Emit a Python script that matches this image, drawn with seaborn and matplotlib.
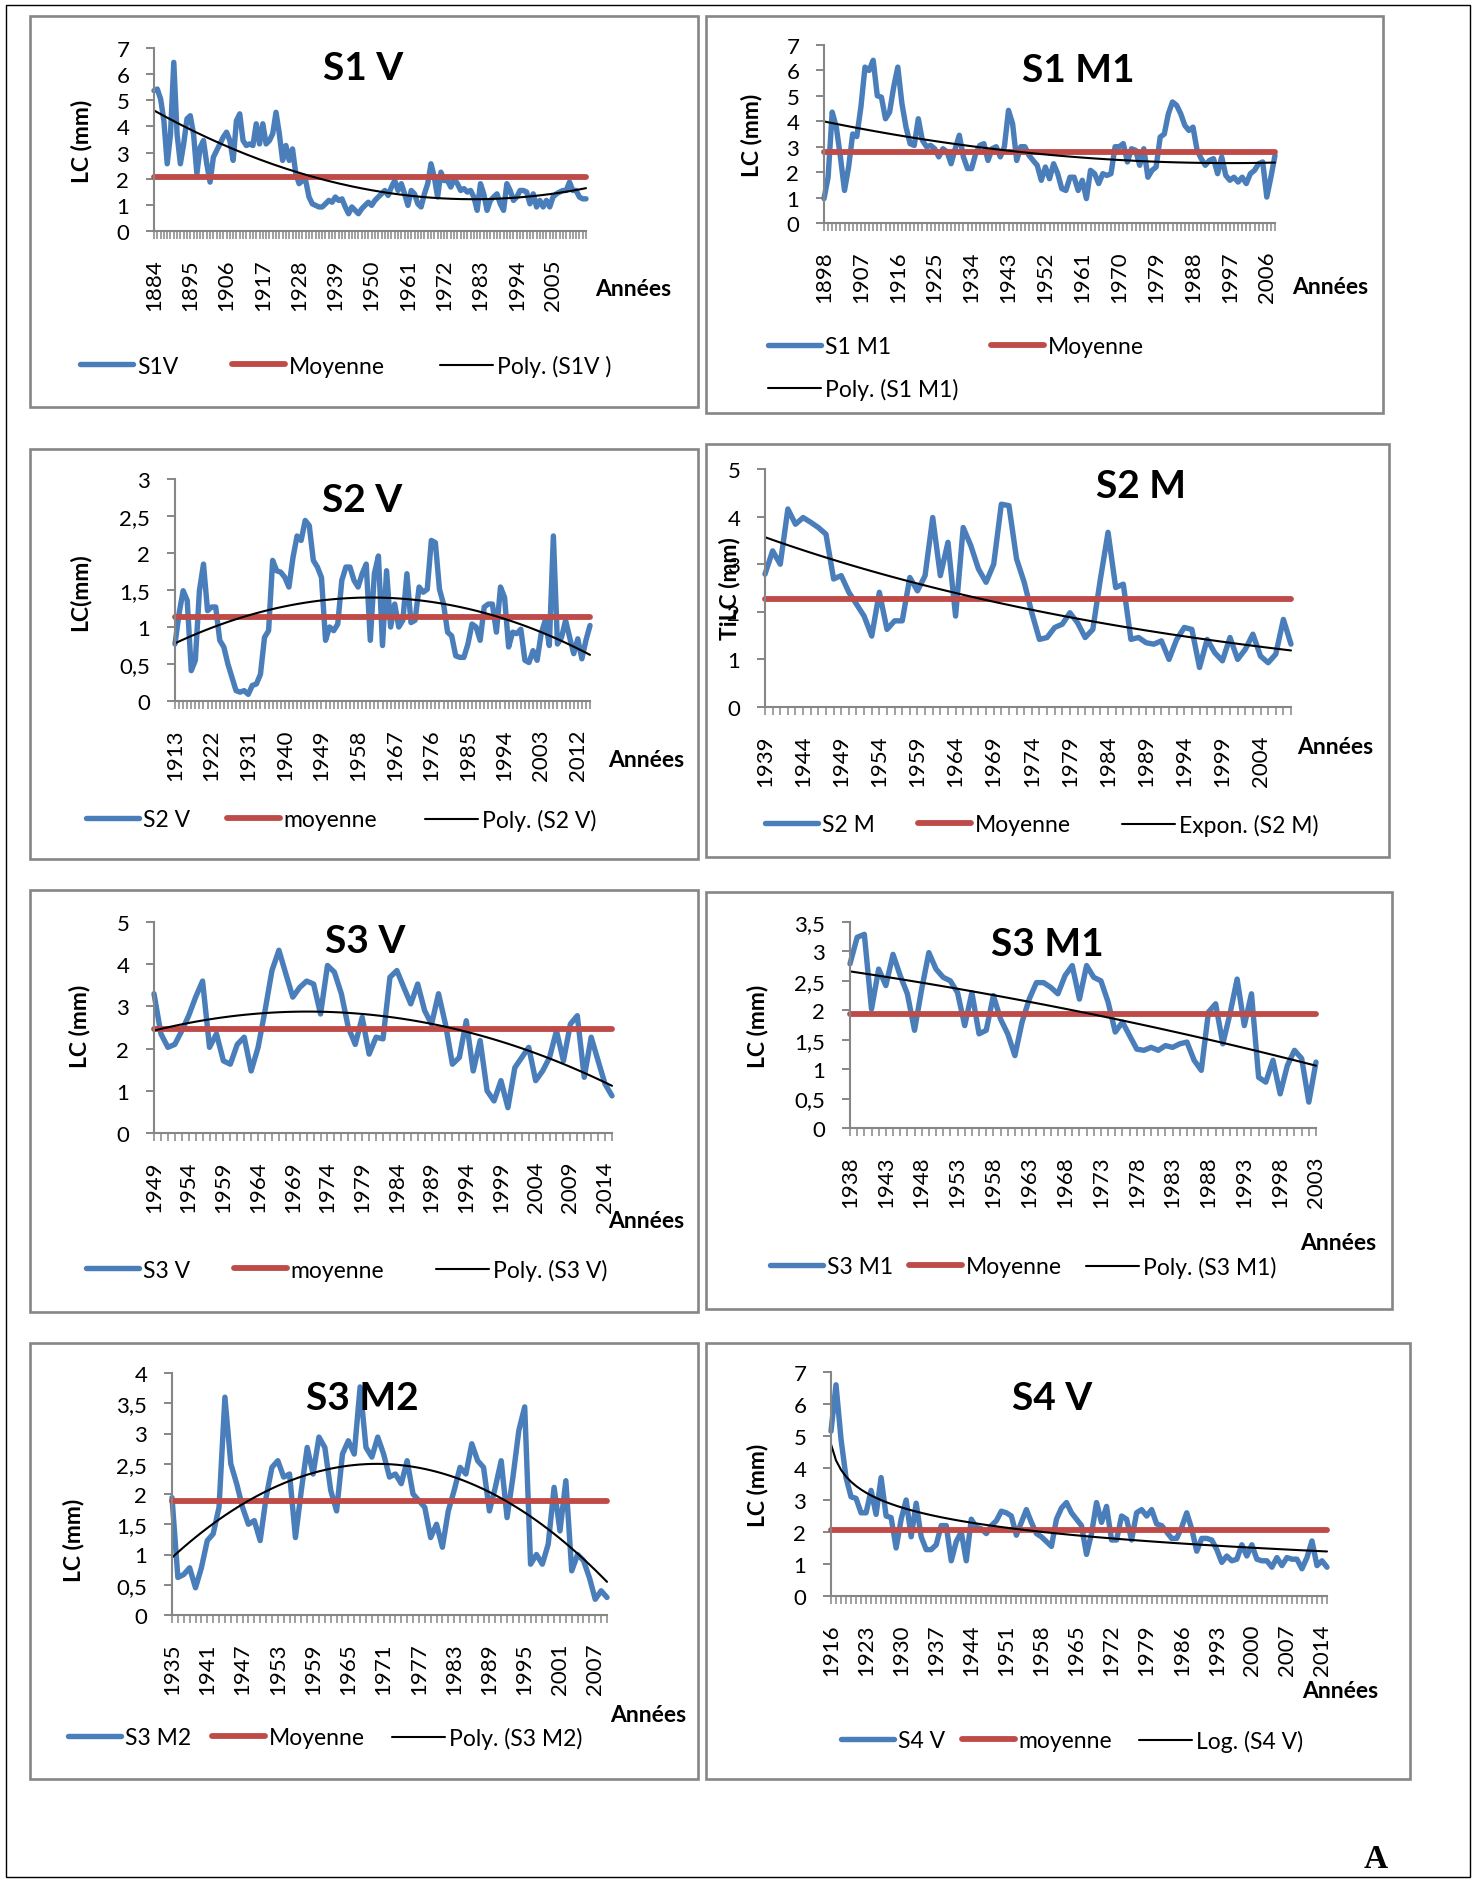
import numpy as np
import pandas as pd
import matplotlib
matplotlib.use("Agg")
import matplotlib.pyplot as plt
from matplotlib.patches import Rectangle
from matplotlib.legend import Legend
from matplotlib.ticker import FixedLocator, FuncFormatter
import seaborn as sns

sns.set_theme(style="white")
plt.rcParams['font.family'] = ['Lato', 'DejaVu Sans']

# ---------------------------------------------------------------- data (mm)
s1v_start = 1884
s1v = [5.37, 5.43, 5.05, 4.22, 2.57, 3.7, 6.45, 3.7, 2.57, 3.33,
       4.29, 4.41, 3.7, 2.19, 3.2, 3.46, 2.57, 1.87, 2.82, 3.08,
       3.33, 3.59, 3.78, 3.46, 2.7, 4.22, 4.48, 3.46, 3.27, 3.33,
       3.27, 4.1, 3.33, 4.1, 3.33, 3.46, 3.72, 4.54, 3.72, 2.7,
       3.27, 2.7, 3.14, 2.19, 1.81, 1.93, 1.93, 1.3, 1.04, 0.98,
       0.92, 0.92, 1.04, 1.17, 1.1, 1.3, 1.17, 1.23, 0.92, 0.66,
       0.92, 0.79, 0.66, 0.85, 0.98, 1.1, 0.98, 1.17, 1.3, 1.42,
       1.55, 1.36, 1.68, 1.93, 1.55, 1.81, 1.42, 0.98, 1.55, 1.42,
       1.04, 0.92, 1.42, 1.81, 2.57, 2.06, 1.3, 2.25, 1.93, 1.93,
       1.68, 2.0, 1.81, 1.55, 1.62, 1.49, 1.55, 1.3, 0.79, 1.81,
       1.42, 0.79, 1.17, 1.3, 1.42, 1.04, 0.79, 1.81, 1.55, 1.17,
       1.3, 1.55, 1.55, 1.49, 1.04, 1.42, 0.92, 1.17, 0.92, 1.17,
       0.92, 1.3, 1.42, 1.49, 1.55, 1.55, 1.87, 1.55, 1.55, 1.3,
       1.23, 1.23]

s1m1_start = 1898
s1m1 = [0.96, 1.8, 4.36, 3.77, 2.6, 1.28, 2.2, 3.5, 3.4, 4.56,
        6.13, 6.0, 6.4, 5.0, 4.95, 4.1, 4.36, 5.35, 6.13, 4.7,
        3.77, 3.12, 3.05, 4.1, 3.25, 3.0, 3.05, 2.92, 2.6, 2.92,
        2.8, 2.33, 2.92, 3.45, 2.6, 2.14, 2.14, 2.73, 3.05, 3.12,
        2.46, 2.92, 3.0, 2.6, 3.0, 4.43, 3.9, 2.46, 3.0, 3.0,
        2.66, 2.46, 2.27, 1.68, 2.2, 1.74, 2.33, 1.94, 1.35, 1.28,
        1.8, 1.8, 1.28, 1.68, 0.96, 2.07, 1.94, 1.55, 1.94, 1.87,
        1.94, 3.0, 3.0, 3.12, 2.4, 2.92, 2.86, 2.27, 2.92, 1.8,
        2.07, 2.2, 3.38, 3.5, 4.3, 4.76, 4.63, 4.3, 3.84, 3.64,
        3.77, 2.86, 2.53, 2.27, 2.46, 2.53, 1.94, 2.6, 1.87, 1.68,
        1.8, 1.61, 1.8, 1.55, 1.94, 2.07, 2.33, 2.4, 1.02, 1.8,
        2.66]

s2v_start = 1913
s2v = [0.77, 1.18, 1.49, 1.36, 0.41, 0.55, 1.49, 1.85, 1.22, 1.27,
       1.27, 0.82, 0.73, 0.5, 0.32, 0.14, 0.12, 0.14, 0.09, 0.21,
       0.23, 0.36, 0.86, 0.95, 1.9, 1.76, 1.74, 1.67, 1.54, 1.94,
       2.23, 2.17, 2.44, 2.37, 1.9, 1.81, 1.67, 0.82, 1.0, 0.95,
       1.04, 1.63, 1.81, 1.81, 1.63, 1.54, 1.72, 1.85, 0.82, 1.72,
       1.96, 0.75, 1.76, 1.0, 1.31, 1.0, 1.09, 1.72, 1.06, 1.09,
       1.54, 1.47, 1.51, 2.17, 2.14, 1.51, 1.31, 0.93, 0.88, 0.61,
       0.59, 0.59, 0.77, 1.04, 1.0, 0.82, 1.27, 1.31, 1.31, 0.93,
       1.54, 1.4, 0.73, 0.93, 0.91, 0.97, 0.55, 0.52, 0.68, 0.55,
       0.91, 1.09, 0.75, 2.23, 0.77, 0.86, 1.09, 0.86, 0.64, 0.84,
       0.57, 0.82, 1.02]

s2m_start = 1939
s2m = [2.79, 3.28, 3.0, 4.16, 3.84, 3.98, 3.88, 3.77, 3.63, 2.69,
       2.76, 2.41, 2.16, 1.91, 1.49, 2.41, 1.63, 1.81, 1.81, 2.72,
       2.44, 2.76, 3.98, 2.76, 3.46, 1.91, 3.77, 3.39, 2.9, 2.62,
       3.0, 4.26, 4.23, 3.11, 2.62, 1.98, 1.42, 1.46, 1.67, 1.74,
       1.98, 1.77, 1.46, 1.63, 2.69, 3.67, 2.51, 2.58, 1.42, 1.46,
       1.35, 1.32, 1.39, 1.0, 1.42, 1.67, 1.63, 0.83, 1.42, 1.14,
       0.97, 1.46, 1.0, 1.21, 1.53, 1.07, 0.93, 1.11, 1.84, 1.32]

s3v_start = 1949
s3v = [3.3, 2.35, 2.03, 2.1, 2.42, 2.78, 3.22, 3.6, 2.03, 2.35,
       1.71, 1.63, 2.1, 2.27, 1.47, 2.03, 2.9, 3.85, 4.33, 3.77,
       3.22, 3.45, 3.6, 3.53, 2.82, 3.97, 3.81, 3.3, 2.5, 2.1,
       2.74, 1.87, 2.27, 2.23, 3.69, 3.85, 3.45, 3.06, 3.53, 2.9,
       2.58, 3.3, 2.58, 1.63, 1.79, 2.66, 1.47, 2.19, 1.0, 0.76,
       1.24, 0.6, 1.55, 1.79, 2.03, 1.24, 1.47, 1.79, 2.42, 1.71,
       2.58, 2.78, 1.32, 2.27, 1.71, 1.16, 0.88]

s3m1_start = 1938
s3m1 = [2.79, 3.24, 3.29, 2.02, 2.7, 2.42, 2.95, 2.59, 2.28, 1.66,
        2.36, 2.98, 2.7, 2.56, 2.5, 2.3, 1.74, 2.3, 1.6, 1.66,
        2.25, 1.85, 1.6, 1.23, 1.8, 2.19, 2.47, 2.47, 2.39, 2.28,
        2.59, 2.76, 2.19, 2.76, 2.56, 2.5, 2.14, 1.63, 1.8, 1.57,
        1.34, 1.32, 1.37, 1.32, 1.4, 1.37, 1.43, 1.46, 1.15, 0.98,
        1.97, 2.11, 1.43, 1.94, 2.53, 1.74, 2.28, 0.86, 0.78, 1.15,
        0.58, 1.06, 1.32, 1.18, 0.44, 1.12]

s3m2_start = 1935
s3m2 = [1.94, 0.62, 0.67, 0.78, 0.45, 0.78, 1.23, 1.34, 1.78, 3.6,
        2.5, 2.17, 1.78, 1.5, 1.56, 1.23, 1.94, 2.44, 2.55, 2.28,
        2.33, 1.28, 2.06, 2.77, 2.33, 2.94, 2.77, 2.06, 1.72, 2.66,
        2.88, 2.66, 3.77, 2.77, 2.61, 2.94, 2.66, 2.28, 2.33, 2.17,
        2.55, 2.0, 1.89, 1.78, 1.28, 1.5, 1.12, 1.72, 2.06, 2.44,
        2.33, 2.83, 2.55, 2.44, 1.72, 2.11, 2.55, 1.61, 2.28, 3.05,
        3.44, 0.84, 1.0, 0.84, 1.17, 2.11, 1.39, 2.22, 0.73, 1.0,
        0.9, 0.62, 0.26, 0.4, 0.29]

s4v_start = 1916
s4v = [5.15, 6.6, 4.9, 3.7, 3.1, 3.05, 2.6, 2.6, 3.3, 2.55,
       3.7, 2.5, 2.45, 1.5, 2.4, 3.0, 1.85, 2.9, 1.85, 1.45,
       1.45, 1.6, 2.2, 2.2, 1.1, 1.7, 2.0, 1.1, 2.4, 2.15,
       2.1, 1.95, 2.2, 2.35, 2.65, 2.6, 2.5, 1.9, 2.3, 2.7,
       2.3, 1.95, 1.85, 1.7, 1.55, 2.4, 2.75, 2.92, 2.6, 2.4,
       2.2, 1.3, 1.95, 2.92, 2.3, 2.8, 1.75, 1.75, 2.5, 2.4,
       1.75, 2.6, 2.7, 2.5, 2.7, 2.25, 2.2, 2.0, 1.8, 1.8,
       2.15, 2.6, 2.1, 1.4, 1.8, 1.8, 1.75, 1.45, 1.05, 1.25,
       1.1, 1.15, 1.6, 1.25, 1.6, 1.15, 1.1, 1.1, 0.9, 1.2,
       0.95, 1.2, 1.15, 1.15, 0.85, 1.2, 1.72, 0.95, 1.1, 0.9]

# mean level of each series ("Moyenne")
moyenne = {'S1 V': 2.05, 'S1 M1': 2.78, 'S2 V': 1.14, 'S2 M': 2.26,
           'S3 V': 2.47, 'S3 M1': 1.94, 'S3 M2': 1.88, 'S4 V': 2.07}

titles = ['S1 V', 'S1 M1', 'S2 V', 'S2 M', 'S3 V', 'S3 M1', 'S3 M2', 'S4 V']
series = [s1v, s1m1, s2v, s2m, s3v, s3m1, s3m2, s4v]
starts = [s1v_start, s1m1_start, s2v_start, s2m_start,
          s3v_start, s3m1_start, s3m2_start, s4v_start]
label_steps = [11, 9, 9, 5, 5, 5, 6, 7]
y_max = [7, 7, 3, 5, 5, 3.5, 4, 7]
y_step = [1, 1, 0.5, 1, 1, 0.5, 0.5, 1]
y_labels = ['LC (mm)', 'LC (mm)', 'LC(mm)', 'TiLC (mm)',
            'LC (mm)', 'LC (mm)', 'LC (mm)', 'LC (mm)']
trend_kind = ['poly', 'poly', 'poly', 'expon', 'poly', 'poly', 'poly', 'log']
legend_labels = [
    ['S1V', 'Moyenne', 'Poly. (S1V )'],
    ['S1 M1', 'Moyenne', 'Poly. (S1 M1)'],
    ['S2 V', 'moyenne', 'Poly. (S2 V)'],
    ['S2 M', 'Moyenne', 'Expon. (S2 M)'],
    ['S3 V', 'moyenne', 'Poly. (S3 V)'],
    ['S3 M1', 'Moyenne', 'Poly. (S3 M1)'],
    ['S3 M2', 'Moyenne', 'Poly. (S3 M2)'],
    ['S4 V', 'moyenne', 'Log. (S4 V)'],
]

# ---------------------------------------------------------------- layout (px)
W, H = 1473, 1881
layout = {
    'S1 V':  dict(box=(30, 17, 698, 408), axes=(154, 49, 586, 232), title=(363, 69),
                  ylab=(81, 141), annees=(595, 290),
                  legend=[(80, 367), (232, 367), (440, 367)]),
    'S1 M1': dict(box=(706, 17, 1383, 414), axes=(824, 46, 1275, 224), title=(1078, 70),
                  ylab=(751, 135), annees=(1292, 288),
                  legend=[(768, 348), (991, 348), (768, 390)]),
    'S2 V':  dict(box=(30, 450, 698, 860), axes=(175, 480, 590, 702), title=(362, 501),
                  ylab=(80, 592), annees=(608, 761),
                  legend=[(86, 821), (227, 821), (425, 821)]),
    'S2 M':  dict(box=(706, 445, 1389, 858), axes=(765, 470, 1291, 708), title=(1141, 486),
                  ylab=(729, 589), annees=(1297, 748),
                  legend=[(765, 826), (918, 826), (1122, 826)]),
    'S3 V':  dict(box=(30, 891, 698, 1313), axes=(154, 923, 612, 1134), title=(365, 942),
                  ylab=(80, 1026), annees=(608, 1222),
                  legend=[(86, 1271), (234, 1271), (436, 1271)]),
    'S3 M1': dict(box=(706, 893, 1392, 1310), axes=(850, 923, 1316, 1129), title=(1047, 944),
                  ylab=(758, 1026), annees=(1300, 1244),
                  legend=[(770, 1268), (909, 1268), (1086, 1268)]),
    'S3 M2': dict(box=(30, 1344, 698, 1780), axes=(172, 1374, 607, 1616), title=(362, 1398),
                  ylab=(73, 1540), annees=(610, 1716),
                  legend=[(68, 1739), (212, 1739), (392, 1739)]),
    'S4 V':  dict(box=(706, 1344, 1410, 1780), axes=(831, 1373, 1327, 1597), title=(1052, 1398),
                  ylab=(758, 1485), annees=(1302, 1692),
                  legend=[(841, 1742), (962, 1742), (1139, 1742)]),
}

BLUE = '#4A7EBB'
RED = '#BE4B48'
GRAY = '#868686'


def fx(x):
    return x / W


def fy(y):
    return 1 - y / H


def trend(kind, y):
    """Excel-style trend line on the category index 1..n."""
    y = np.asarray(y, dtype=float)
    x = np.arange(1, len(y) + 1)
    if kind == 'poly':
        return np.polyval(np.polyfit(x, y, 2), x)
    if kind == 'expon':
        b, a = np.polyfit(x, np.log(y), 1)
        return np.exp(a + b * x)
    c, b = np.polyfit(np.log(x), y, 1)
    return c * np.log(x) + b


fig = plt.figure(figsize=(W / 100, H / 100), dpi=100)

# outer frame of the plate
fig.add_artist(Rectangle((fx(6), fy(1878)), fx(1470) - fx(6), fy(6) - fy(1878),
                         transform=fig.transFigure, fill=False, edgecolor='black', lw=1.0))


def comma(v, _pos=None):
    return ('%g' % v).replace('.', ',')


for k, name in enumerate(titles):
    lay = layout[name]
    vals = series[k]
    n = len(vals)
    idx = np.arange(n)
    df = pd.DataFrame({'idx': idx, 'val': vals,
                       'moy': np.full(n, moyenne[name]),
                       'trend': trend(trend_kind[k], vals)})

    # chart frame
    bx0, by0, bx1, by1 = lay['box']
    fig.add_artist(Rectangle((fx(bx0), fy(by1)), fx(bx1) - fx(bx0), fy(by0) - fy(by1),
                             transform=fig.transFigure, fill=False,
                             edgecolor=GRAY, lw=1.9))

    L, T, R, B = lay['axes']
    ax = fig.add_axes([fx(L), fy(B), fx(R) - fx(L), fy(T) - fy(B)])
    ax.patch.set_alpha(0)

    line_kw = dict(solid_capstyle='round', solid_joinstyle='round', clip_on=False)
    sns.lineplot(data=df, x='idx', y='val', ax=ax, color=BLUE, lw=3.9, **line_kw)
    sns.lineplot(data=df, x='idx', y='moy', ax=ax, color=RED, lw=4.2, **line_kw)
    sns.lineplot(data=df, x='idx', y='trend', ax=ax, color='black', lw=1.5, **line_kw)

    ax.set_xlim(0, n - 1)
    ax.set_ylim(0, y_max[k])
    ax.set_xlabel('')
    ax.set_ylabel('')
    ax.grid(False)

    # category axis: a tick per year, a label every few years
    step = label_steps[k]
    lab_pos = idx[::step]
    ax.xaxis.set_major_locator(FixedLocator(lab_pos))
    ax.xaxis.set_minor_locator(FixedLocator(idx))
    ax.set_xticklabels([str(starts[k] + i) for i in lab_pos], rotation=90)
    yt = np.arange(0, y_max[k] + 1e-9, y_step[k])
    ax.yaxis.set_major_locator(FixedLocator(yt))
    ax.yaxis.set_major_formatter(FuncFormatter(comma))

    ax.tick_params(axis='x', which='both', direction='out', length=5.8, width=1.1,
                   color=GRAY, bottom=True, pad=14, labelsize=16, labelcolor='black')
    ax.tick_params(axis='y', which='major', direction='out', length=5.8, width=1.4,
                   color=GRAY, left=True, pad=12, labelsize=16, labelcolor='black')
    for side in ('top', 'right'):
        ax.spines[side].set_visible(False)
    for side in ('left', 'bottom'):
        ax.spines[side].set_color(GRAY)
        ax.spines[side].set_linewidth(1.5)

    # texts
    tx, ty = lay['title']
    fig.text(fx(tx), fy(ty), name, ha='center', va='center',
             fontsize=28, fontweight='bold', color='black')
    ax.set_ylabel(y_labels[k], fontsize=16.5, fontweight='bold', color='black',
                  rotation=90, va='center', ha='center')
    ax.yaxis.set_label_coords(fx(lay['ylab'][0]), fy(lay['ylab'][1]),
                              transform=fig.transFigure)
    axx, axy = lay['annees']
    fig.text(fx(axx), fy(axy), 'Années', ha='left', va='center',
             fontsize=16.5, fontweight='bold', color='black')

    # legend entries
    lines = ax.get_lines()[:3]
    for line, lab, (lx, ly) in zip(lines, legend_labels[k], lay['legend']):
        leg = Legend(ax, [line], [lab], loc='center left',
                     bbox_to_anchor=(fx(lx), fy(ly)), bbox_transform=fig.transFigure,
                     frameon=False, fontsize=16.5, handlelength=2.3,
                     handletextpad=0.18, borderpad=0, borderaxespad=0)
        for t in leg.get_texts():
            t.set_color('black')
        ax.add_artist(leg)

fig.text(fx(1376), fy(1860), 'A', ha='center', va='center', fontsize=24,
         fontweight='bold', family=['Liberation Serif', 'DejaVu Serif'], color='black')

fig.savefig('out.png', dpi=100)
